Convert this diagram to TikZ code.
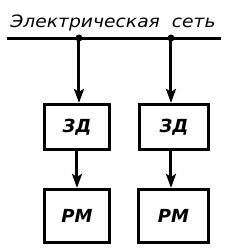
\documentclass[tikz,border=0pt]{standalone}
\usepackage{fontspec}
\setmainfont{DejaVu Sans}
\usetikzlibrary{arrows.meta}
\begin{document}
\begin{tikzpicture}[x=1pt,y=-1pt]
\tikzset{
  blockbox/.style={draw=black,line width=3.2pt,inner sep=0pt,font=\bfseries\itshape\fontsize{18}{18}\selectfont},
  busline/.style={draw=black,line width=3pt},
  feed/.style={draw=black,line width=3pt,-{Stealth[length=14pt,width=10pt,inset=3pt]}},
  tapdot/.style={circle,fill=black,inner sep=0pt,minimum size=7pt}
}
\useasboundingbox (0,0) rectangle (225,250);
\node[anchor=base,inner sep=0pt,font=\itshape\fontsize{17}{17}\selectfont] (n_title) at (113,27.5) {\scalebox{1.1}[1]{Электрическая\ \ сеть}};
\coordinate (n_busL) at (7,38);
\coordinate (n_busR) at (221,38);
\node[tapdot] (n_tap1) at (79,38) {};
\node[tapdot] (n_tap2) at (171,38) {};
\node[blockbox,minimum width=65pt,minimum height=45pt] (n_zd1) at (77,127) {ЗД};
\node[blockbox,minimum width=69pt,minimum height=45pt] (n_zd2) at (174,127) {ЗД};
\node[blockbox,minimum width=65pt,minimum height=53pt] (n_rm1) at (77,216) {РМ};
\node[blockbox,minimum width=70pt,minimum height=53pt] (n_rm2) at (173.5,216) {РМ};
\draw[busline] (n_busL) -- (n_busR);
\draw[feed] (n_tap1.center) -- (n_tap1 |- n_zd1.north);
\draw[feed] (n_tap2.center) -- (n_tap2 |- n_zd2.north);
\draw[feed] (n_zd1.south) -- (n_rm1.north);
\draw[feed] (n_tap2 |- n_zd2.south) -- (n_tap2 |- n_rm2.north);
\end{tikzpicture}
\end{document}
